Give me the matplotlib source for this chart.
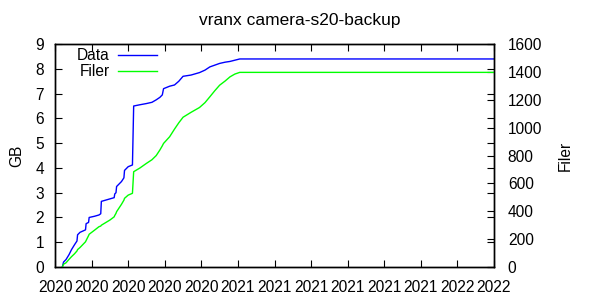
import numpy as np
import pandas as pd
import matplotlib
matplotlib.use("Agg")
import matplotlib.pyplot as plt
import matplotlib.dates as mdates

plt.rcParams['font.family'] = ['Liberation Sans', 'DejaVu Sans']
plt.rcParams['font.size'] = 11.2

title = "vranx camera-s20-backup"

# sample dates
dates = ["2020-04-13", "2020-04-15", "2020-04-19", "2020-04-24", "2020-04-28",
         "2020-05-03", "2020-05-07", "2020-05-08", "2020-05-12", "2020-05-21",
         "2020-05-22", "2020-05-26", "2020-05-27", "2020-06-05", "2020-06-12",
         "2020-06-15", "2020-06-16", "2020-06-30", "2020-07-07", "2020-07-08",
         "2020-07-10", "2020-07-11", "2020-07-19", "2020-07-23", "2020-07-24",
         "2020-07-30", "2020-08-06", "2020-08-08", "2020-08-18", "2020-08-29",
         "2020-09-07", "2020-09-14", "2020-09-20", "2020-09-24", "2020-09-26",
         "2020-10-06", "2020-10-14", "2020-10-21", "2020-10-28", "2020-11-10",
         "2020-11-24", "2020-12-03", "2020-12-11", "2020-12-19", "2020-12-27",
         "2021-01-05", "2021-01-13", "2021-01-21", "2021-01-29", "2022-03-22"]
data_gb = [0.0, 0.2, 0.3, 0.5, 0.7,
           0.9, 1.05, 1.3, 1.4, 1.5,
           1.75, 1.8, 2.0, 2.05, 2.1,
           2.15, 2.65, 2.75, 2.8, 2.95,
           3.0, 3.25, 3.45, 3.6, 3.9,
           4.05, 4.12, 6.5, 6.55, 6.6,
           6.65, 6.75, 6.85, 6.95, 7.2,
           7.3, 7.35, 7.5, 7.7, 7.75,
           7.85, 7.95, 8.08, 8.15, 8.22,
           8.27, 8.3, 8.35, 8.4, 8.4]
files = [0, 20, 30, 55, 74,
         95, 115, 125, 140, 181,
         190, 225, 235, 265, 289,
         294, 300, 337, 360, 370,
         385, 397, 450, 480, 493,
         516, 529, 684, 710, 744,
         770, 800, 840, 870, 887,
         935, 990, 1035, 1075, 1110,
         1145, 1180, 1222, 1265, 1305,
         1335, 1365, 1385, 1397, 1397]
labels = ["Data", "Filer"]
colors = ["#0000ff", "#00ff00"]

x_start = pd.Timestamp("2020-04-01")
x_end = pd.Timestamp("2022-03-22")
tick_days = 60

x = pd.to_datetime(dates)

fig = plt.figure(figsize=(6, 3), dpi=100)
ax = fig.add_axes([0.0917, 0.11, 0.7316, 0.743])
ax2 = ax.twinx()

ax.plot(x, data_gb, color=colors[0], lw=1.0)
ax2.plot(x, files, color=colors[1], lw=1.0)

ax.set_xlim(x_start, x_end)
ax.set_ylim(0, 9)
ax2.set_ylim(0, 1600)
ax.set_yticks(range(0, 10))
ax2.set_yticks(range(0, 1601, 200))
ax.set_xticks(pd.date_range(x_start, x_end, freq=f"{tick_days}D"))
ax.xaxis.set_major_formatter(mdates.DateFormatter('%Y'))

ax.tick_params(axis='both', direction='in', length=5, width=0.8,
               top=True, right=True, labelright=False)
ax.tick_params(axis='y', pad=8)
ax.tick_params(axis='x', pad=9)
ax2.tick_params(axis='y', direction='in', length=5, width=0.8, pad=10)

for a in (ax, ax2):
    for s in a.spines.values():
        s.set_linewidth(1.0)

ax.set_ylabel("GB", labelpad=8)
ax2.set_ylabel("Filer", labelpad=11)
fig.text(0.5, 0.932, title, ha='center', va='center', fontsize=12.5)

# gnuplot-style key: right-aligned label, then a line sample
for i, (lab, col) in enumerate(zip(labels, colors)):
    ky = 0.951 - i * 0.072
    ax2.text(0.125, ky, lab, transform=ax2.transAxes, ha='right', va='center')
    ax2.plot([0.1435, 0.232], [ky, ky], transform=ax2.transAxes,
             color=col, lw=1.0, clip_on=False)

fig.savefig("out.png", dpi=100)
